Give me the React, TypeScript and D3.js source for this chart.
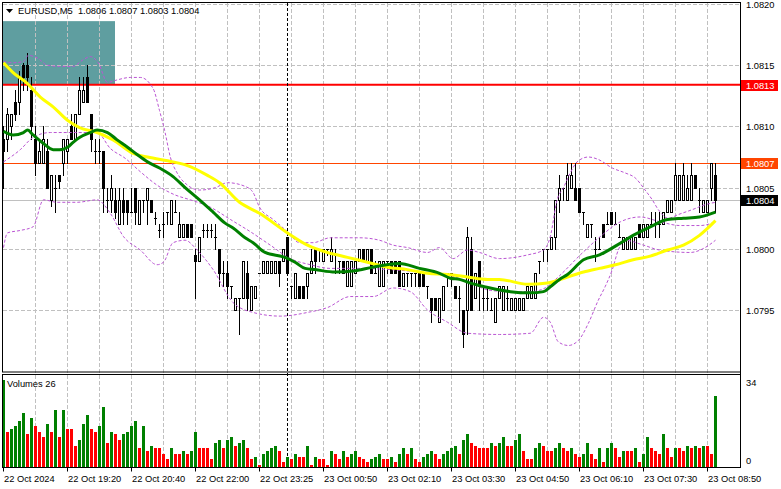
import React from "react";
import * as d3 from "d3";

const symbolTitle = "EURUSD,M5";
const headerOHLC = "1.0806 1.0807 1.0803 1.0804";

const opens = [
1.0809,1.0809,1.0810,1.0812,1.0812,1.0815,1.0815,1.0813,1.0809,1.0807,
1.0807,1.0808,1.0804,1.0805,1.0806,1.0807,1.0808,1.0810,1.0809,1.0811,
1.0812,1.0814,1.0811,1.0808,1.0808,1.0808,1.0804,1.0804,1.0804,1.0802,
1.0804,1.0804,1.0803,1.0805,1.0802,1.0804,1.0804,1.0804,1.08025,1.08015,
1.0802,1.0803,1.0802,1.0803,1.0801,1.0801,1.0802,1.0802,1.07995,1.0799,
1.08015,1.08015,1.08015,1.0801,1.0800,1.0798,1.0798,1.0797,1.0795,1.0796,
1.0796,1.0798,1.0795,1.0796,1.0798,1.0798,1.0798,1.0798,1.0798,1.0799,
1.0799,1.0801,1.0797,1.0796,1.0797,1.0797,1.0797,1.0798,1.0800,1.0800,
1.0799,1.0800,1.0799,1.07995,1.0799,1.0799,1.0797,1.0797,1.0798,1.0799,
1.0800,1.0799,1.0800,1.0798,1.0797,1.0797,1.0799,1.0799,1.0799,1.0799,
1.0797,1.0798,1.0798,1.0798,1.0798,1.0798,1.0797,1.0796,1.0796,1.0794,
1.0795,1.0798,1.0798,1.0797,1.0796,1.0795,1.0795,1.0800,1.0796,1.0799,
1.0796,1.0796,1.0795,1.0794,1.0796,1.0795,1.0796,1.0795,1.0795,1.0795,
1.0795,1.0796,1.0796,1.0796,1.0799,1.0800,1.0800,1.0800,1.0801,1.0804,
1.0805,1.0804,1.0805,1.0805,1.0805,1.0803,1.0801,1.0802,1.0800,1.0800,
1.0802,1.0802,1.0803,1.0802,1.0801,1.0800,1.0800,1.0800,1.0800,1.0802,
1.0801,1.0801,1.0802,1.0802,1.0802,1.0802,1.0803,1.0803,1.0804,1.0804,
1.0804,1.0804,1.0804,1.0806,1.0804,1.0803,1.0803,1.0805,1.0806];

const highs = [
1.0810,1.08115,1.0811,1.0813,1.08145,1.08152,1.0816,1.0814,1.0810,1.0809,
1.0810,1.0809,1.0806,1.0806,1.0806,1.0809,1.0809,1.0811,1.0811,1.0814,
1.0814,1.0815,1.0811,1.0809,1.0809,1.0808,1.0805,1.0806,1.0805,1.0805,
1.0805,1.0804,1.0805,1.0805,1.0804,1.0804,1.0805,1.0804,1.0803,1.0802,
1.0803,1.0803,1.0804,1.0804,1.0803,1.0802,1.0802,1.0802,1.0800,1.0801,
1.0802,1.0802,1.0802,1.0802,1.0800,1.0799,1.0799,1.0797,1.0796,1.0796,
1.0799,1.0799,1.0797,1.0797,1.0798,1.0799,1.0799,1.0799,1.0799,1.0799,
1.0800,1.0801,1.0797,1.0798,1.0797,1.0797,1.0798,1.0800,1.0800,1.0800,
1.0800,1.0800,1.0801,1.0800,1.0799,1.0799,1.0799,1.0799,1.0799,1.0800,
1.0800,1.0800,1.0800,1.0799,1.0799,1.0799,1.0799,1.0799,1.0799,1.0799,
1.0798,1.0798,1.0798,1.0798,1.0798,1.0798,1.0797,1.0796,1.0796,1.0796,
1.0797,1.0798,1.0798,1.0797,1.0797,1.0795,1.08018,1.0801,1.0798,1.0799,
1.0797,1.0797,1.0796,1.0796,1.0797,1.0797,1.0797,1.0796,1.0796,1.0796,
1.0796,1.0797,1.0797,1.0798,1.0799,1.0800,1.0800,1.0801,1.0804,1.0806,
1.0805,1.0807,1.0807,1.0807,1.0805,1.0803,1.0802,1.0802,1.0801,1.0801,
1.0802,1.0803,1.0803,1.0803,1.0802,1.0801,1.0801,1.0801,1.0801,1.0802,
1.0802,1.0802,1.0803,1.0803,1.0803,1.0803,1.0804,1.0804,1.0807,1.0806,
1.0807,1.0806,1.0807,1.0806,1.0805,1.0804,1.0804,1.0807,1.0807];

const lows = [
1.0805,1.0808,1.0809,1.08105,1.0811,1.0813,1.0813,1.0809,1.0806,1.0807,
1.0807,1.0805,1.08035,1.0803,1.0805,1.0806,1.0807,1.0809,1.0809,1.0811,
1.0812,1.0812,1.0808,1.0807,1.0807,1.0803,1.0803,1.0803,1.08025,1.0802,
1.0802,1.0802,1.0803,1.0802,1.0802,1.0803,1.0802,1.0803,1.0802,1.0801,
1.0801,1.0802,1.0802,1.0803,1.0801,1.0801,1.0801,1.0801,1.0796,1.0799,
1.0801,1.0801,1.0801,1.0800,1.0797,1.0797,1.0796,1.0796,1.0795,1.0793,
1.0796,1.0795,1.0795,1.0796,1.0798,1.0798,1.0798,1.0798,1.0798,1.0797,
1.0799,1.0798,1.0796,1.0796,1.0796,1.0796,1.0796,1.0798,1.0798,1.0799,
1.0799,1.07995,1.0799,1.0798,1.0798,1.0798,1.0797,1.0797,1.0798,1.0799,
1.0799,1.0799,1.0798,1.0798,1.0797,1.0797,1.0798,1.0798,1.0798,1.0797,
1.0797,1.0797,1.0797,1.0797,1.0797,1.0797,1.0796,1.0794,1.0795,1.0794,
1.0795,1.0797,1.0797,1.0796,1.0794,1.0792,1.0793,1.0795,1.0796,1.0795,
1.0795,1.0795,1.0795,1.0794,1.0796,1.0795,1.0795,1.0795,1.0795,1.0795,
1.0795,1.0796,1.0796,1.0796,1.0798,1.0799,1.0799,1.0800,1.0800,1.0803,
1.0804,1.0804,1.0805,1.0804,1.0803,1.0802,1.0801,1.0801,1.0799,1.0800,
1.0801,1.0802,1.0802,1.0802,1.0801,1.0800,1.0800,1.0800,1.0800,1.0801,
1.0801,1.0801,1.0802,1.0801,1.0801,1.0802,1.0803,1.0803,1.0804,1.0804,
1.0804,1.0804,1.0804,1.0805,1.0803,1.0803,1.0803,1.0804,1.0803];

const closes = [
1.0808,1.0811,1.0811,1.0811,1.0814,1.0814,1.0814,1.0810,1.0807,1.0808,
1.0809,1.0805,1.0806,1.0805,1.08055,1.0809,1.0809,1.0809,1.0811,1.0813,
1.0813,1.0812,1.0809,1.0808,1.0808,1.0805,1.0804,1.0805,1.0803,1.0804,
1.0803,1.0803,1.0803,1.0803,1.0804,1.0804,1.0805,1.0803,1.08025,1.08015,
1.0802,1.0803,1.0804,1.0803,1.0802,1.0802,1.0801,1.0801,1.0799,1.0801,
1.08015,1.08015,1.08015,1.0801,1.0798,1.0798,1.0797,1.0797,1.0796,1.0796,
1.0799,1.0796,1.0797,1.0797,1.0798,1.0799,1.0799,1.0799,1.0799,1.0798,
1.0800,1.0798,1.0797,1.0798,1.0796,1.0796,1.0798,1.0799,1.0799,1.0800,
1.0800,1.0800,1.0800,1.07995,1.0799,1.0798,1.0799,1.0799,1.0799,1.0800,
1.0799,1.0800,1.0798,1.0798,1.0799,1.0799,1.0799,1.0798,1.0798,1.0797,
1.0798,1.0798,1.0798,1.0798,1.0797,1.0797,1.0797,1.0795,1.0795,1.0796,
1.0797,1.0798,1.0798,1.0796,1.0796,1.0793,1.0801,1.0795,1.0798,1.0797,
1.0796,1.0796,1.0795,1.0796,1.0797,1.0797,1.0796,1.0796,1.0796,1.0796,
1.0796,1.0797,1.0797,1.0798,1.0799,1.0800,1.0800,1.0801,1.0804,1.0805,
1.0805,1.0806,1.0806,1.0804,1.0803,1.0803,1.0802,1.0802,1.0800,1.0800,
1.0801,1.0802,1.0802,1.0802,1.0801,1.0801,1.0801,1.0801,1.0801,1.0801,
1.0802,1.0802,1.0802,1.0802,1.0802,1.0803,1.0804,1.0804,1.0806,1.0806,
1.0806,1.0805,1.0806,1.0805,1.0804,1.0804,1.0804,1.0807,1.0804];

const volumes = [
32,13,14,15,17,20,12,18,15,13,11,16,13,21,11,21,14,14,8,10,
16,19,14,13,15,22,9,13,12,10,12,13,15,17,7,15,6,8,7,7,
5,3,7,5,5,6,5,6,13,7,7,7,3,9,10,7,10,11,8,9,
10,7,3,4,1,5,6,7,8,6,2,4,3,5,4,4,8,1,4,3,
3,1,6,5,3,6,4,5,6,4,3,2,3,4,5,3,3,
4,2,5,7,5,7,3,2,4,5,6,5,3,5,6,7,8,5,10,12,
9,8,7,7,7,9,8,9,11,8,8,10,12,6,3,3,7,9,8,6,
6,7,9,7,6,7,5,4,5,9,5,3,7,2,7,9,7,4,6,6,
6,7,2,5,11,7,6,5,12,7,4,7,7,6,8,7,8,7,8,8,5,26];

// moving averages and Bollinger bands as [bar, price]
const maGreen: [number, number][] = [
[0,1.08096],[2.4,1.08093],[5,1.08095],[6,1.08097],[7.4,1.08093],[10,1.08086],[12.4,1.08081],[14,1.08081],
[16,1.08083],[17.4,1.08087],[19,1.08091],[21.7,1.08095],[23.4,1.08097],[26,1.08095],[28.4,1.08089],
[31,1.08083],[33.4,1.08077],[36,1.08071],[39,1.08066],[42.4,1.08059],[45.4,1.0805],[49,1.0804],
[52.4,1.0803],[55.4,1.08021],[57.4,1.08017],[60.4,1.08009],[62.4,1.08005],[65.4,1.07997],[70.4,1.07993],
[72.9,1.07989],[75.4,1.07984],[77.9,1.07983],[82.9,1.07981],[87.9,1.07982],[92.2,1.07985],[99,1.07988],
[104,1.07984],[109,1.0798],[111.7,1.07976],[114,1.07975],[116.7,1.07972],[119,1.0797],[121.7,1.07968],
[126.7,1.07965],[131.7,1.07964],[135,1.07965],[136.7,1.07969],[139,1.07975],[141,1.07979],[145,1.07991],
[149,1.07995],[153.4,1.08003],[157.4,1.08011],[161.7,1.08018],[166,1.08024],[170,1.08025],[174,1.08026],[178,1.0803]];

const maYellow: [number, number][] = [
[0,1.08152],[2.4,1.08144],[6,1.08135],[9.2,1.08124],[12.4,1.08116],[16,1.08105],[19,1.08099],[23.4,1.08095],
[27.4,1.08089],[32.4,1.08078],[36,1.08075],[42.4,1.08071],[46,1.08068],[51,1.0806],[54,1.08054],[59,1.08038],
[64,1.08029],[71,1.08013],[76,1.08003],[81,1.07997],[86,1.07993],[91,1.07989],[96,1.07985],[101,1.07983],
[106,1.0798],[111,1.07979],[116,1.07977],[121,1.07975],[124,1.07975],[131,1.07971],[136,1.07972],
[141,1.07977],[145,1.07981],[149,1.07984],[153,1.07987],[157.4,1.07991],[161.7,1.07994],[166,1.07999],
[170,1.08003],[174,1.08011],[178,1.08023]];

const bbUpper: [number, number][] = [
[0,1.08153],[2.4,1.08152],[5,1.08153],[6.2,1.08158],[8.4,1.08156],[11,1.0815],[14,1.08149],[17.4,1.08149],
[19.7,1.08154],[21.7,1.08157],[23.7,1.08152],[26,1.08136],[28.4,1.08138],[31.7,1.0814],[34.2,1.0814],
[37.4,1.08131],[39,1.08113],[40.4,1.08095],[41.7,1.08075],[43.4,1.08062],[46,1.08052],[49,1.08048],
[53,1.0805],[56,1.08054],[60.4,1.08051],[62.4,1.08046],[64,1.08034],[67.4,1.08024],[71,1.08014],[74,1.08005],
[77.4,1.08005],[81.7,1.08009],[89,1.08009],[94,1.08007],[97.4,1.08003],[101,1.08001],[106,1.07997],
[109,1.08001],[112.4,1.07992],[116,1.07999],[119,1.07997],[124,1.07992],[131,1.07995],[135,1.07999],
[136.7,1.0801],[138.4,1.0804],[140,1.0805],[141.7,1.08062],[143.4,1.08071],[146.2,1.08075],[148.7,1.08073],
[152.2,1.08066],[155.4,1.08062],[157.9,1.08058],[160.4,1.08048],[162.2,1.0804],[163.7,1.08032],
[166.2,1.08025],[168.7,1.08028],[172.2,1.08032],[175.4,1.08036],[178,1.08038]];

const bbMiddle: [number, number][] = [
[0,1.08071],[4.2,1.08081],[7.4,1.08091],[11.7,1.08095],[16,1.08095],[23.4,1.08095],[26.7,1.08082],
[30.4,1.08074],[34.2,1.08063],[38.4,1.08052],[42.9,1.08044],[46.7,1.0804],[51.7,1.08034],[56.7,1.08024],
[61.7,1.08014],[66.7,1.08003],[71.7,1.07992],[76.7,1.07987],[81.7,1.07984],[89.2,1.07984],[96.7,1.07983],
[104.2,1.07981],[111.7,1.07978],[116.7,1.07972],[121.7,1.07966],[126.7,1.07965],[131.7,1.07965],
[135.4,1.07968],[139,1.07978],[144.2,1.07995],[149.2,1.0801],[154.2,1.08022],[159.2,1.08026],
[164.2,1.08022],[169.2,1.08019],[174.2,1.08019],[178,1.08022]];

const bbLower: [number, number][] = [
[0,1.08001],[1,1.08013],[4.2,1.08015],[7.4,1.08018],[10,1.0804],[13.4,1.08038],[18.4,1.08038],[23.4,1.0804],
[26.7,1.08029],[30,1.0801],[34.2,1.07999],[38.4,1.07987],[40,1.07989],[42.4,1.08005],[45.4,1.08007],
[48.4,1.07999],[52.4,1.07983],[57.4,1.07956],[62.4,1.07948],[69.2,1.07945],[76,1.07948],[81,1.07952],
[86.7,1.07961],[92.4,1.07961],[97.4,1.07968],[101.7,1.07965],[106,1.0795],[111,1.0794],[116,1.07931],
[124,1.0793],[131.7,1.07931],[135,1.07944],[136.7,1.0794],[138.7,1.07924],[141.2,1.07921],[143.7,1.07925],
[146.2,1.07939],[148.7,1.07958],[150.4,1.07969],[152.2,1.07983],[153.7,1.07999],[155.4,1.08007],
[160,1.08003],[164,1.07999],[171.7,1.07997],[175.4,1.08001],[178,1.08007]];

const priceTicks = [1.082, 1.0815, 1.081, 1.0805, 1.08, 1.0795];
const timeLabels = ["22 Oct 2024","22 Oct 19:20","22 Oct 20:40","22 Oct 22:00","22 Oct 23:25","23 Oct 00:50",
  "23 Oct 02:10","23 Oct 03:30","23 Oct 04:50","23 Oct 06:10","23 Oct 07:30","23 Oct 08:50"];
const timeLabelBars = [0,16,32,48,64,80,96,112,128,144,160,176];
const daySeparatorBar = 71;
const resistanceLevel = 1.08134;
const highLevel = 1.0807;
const bidLevel = 1.0804;
const zoneTop = 1.08186;
const zoneEndBar = 28;
const volumeMax = 34;
const currentVolume = 26;

const FONT = "'Liberation Sans', Arial, sans-serif";

export default function App() {
  const W = 781, H = 489;
  const left = 3, right = 740, mainTop = 3, mainBottom = 372, volTop = 374, volBottom = 467.5;
  const n = closes.length;
  const x = d3.scaleLinear().domain([0, n - 1]).range([3, 3 + 4 * (n - 1)]);
  const y = d3.scaleLinear().domain([1.0795, 1.082]).range([310, 4]);
  const yv = d3.scaleLinear().domain([0, volumeMax]).range([volBottom, volTop]);
  const line = d3.line<[number, number]>().x(d => x(d[0]) + 0.5).y(d => y(d[1])).curve(d3.curveMonotoneX);
  const ry = (p: number) => Math.round(y(p));

  const gridX: number[] = [];
  for (let k = 1; k * 32 + 3 < right - 2; k++) gridX.push(3 + 32 * k + 0.5);

  const candles = closes.map((c, i) => {
    const cx = Math.round(x(i));
    const o = opens[i], h = highs[i], l = lows[i];
    const yo = ry(o), yc = ry(c), yh = ry(h), yl = ry(l);
    const els: React.ReactNode[] = [];
    els.push(<line key="w" x1={cx + 0.5} x2={cx + 0.5} y1={yh} y2={yl + 1} stroke="#000" strokeWidth={1} />);
    if (yc < yo) {
      els.push(<rect key="b" x={cx - 0.5} y={yc + 0.5} width={2} height={yo - yc} fill="#fff" stroke="#000" strokeWidth={1} />);
    } else if (yc > yo) {
      els.push(<rect key="b" x={cx - 1} y={yo} width={3} height={yc - yo + 1} fill="#000" />);
    } else {
      els.push(<line key="b" x1={cx - 1} x2={cx + 2} y1={yo + 0.5} y2={yo + 0.5} stroke="#000" strokeWidth={1} />);
    }
    return <g key={i}>{els}</g>;
  });

  const volBars = volumes.map((v, i) => {
    const up = i === 0 || v > volumes[i - 1];
    const cx = Math.round(x(i));
    const top = Math.round(yv(v));
    return <rect key={i} x={cx - 1} y={top} width={3} height={Math.max(0, Math.round(volBottom) - top)} fill={up ? "#008000" : "#ff0000"} />;
  });

  const label = (p: number, txt: string, bg: string, fg: string) => {
    const yy = y(p);
    return (
      <g>
        <rect x={741} y={Math.round(yy) - 5} width={37} height={11} fill={bg} />
        <text x={746} y={Math.round(yy) + 4} fontSize={9.3} fontFamily={FONT} fill={fg}>{txt}</text>
      </g>
    );
  };

  return (
    <svg width={W} height={H} style={{ position: "absolute", left: 0, top: 0, background: "#fff" }}>
      <rect x={0} y={0} width={W} height={H} fill="#fff" />
      <rect x={left} y={y(zoneTop)} width={x(zoneEndBar) - left} height={y(resistanceLevel) - y(zoneTop)} fill="#5f9ea0" />
      {gridX.map((gx, k) => (
        <line key={"gx" + k} x1={gx} x2={gx} y1={mainTop} y2={volBottom} stroke="#c0c0c0" strokeDasharray="4,2" strokeWidth={1} />
      ))}
      {priceTicks.map((p, k) => (
        <line key={"gy" + k} x1={left} x2={right} y1={Math.round(y(p)) + 0.5} y2={Math.round(y(p)) + 0.5} stroke="#c0c0c0" strokeDasharray="4,2" strokeWidth={1} />
      ))}
      <line x1={left} x2={right} y1={Math.round(y(bidLevel)) + 0.5} y2={Math.round(y(bidLevel)) + 0.5} stroke="#c0c0c0" strokeWidth={1} />
      <line x1={left} x2={right} y1={Math.round(y(highLevel)) + 0.5} y2={Math.round(y(highLevel)) + 0.5} stroke="#ff4500" strokeWidth={1} />
      <line x1={left} x2={right} y1={y(resistanceLevel)} y2={y(resistanceLevel)} stroke="#ff0000" strokeWidth={2} />
      <line x1={Math.round(x(daySeparatorBar)) + 0.5} x2={Math.round(x(daySeparatorBar)) + 0.5} y1={mainTop} y2={volBottom} stroke="#000" strokeDasharray="3,2" strokeWidth={1} />
      {candles}
      {[bbUpper, bbMiddle, bbLower].map((pts, k) => (
        <path key={"bb" + k} d={line(pts) || ""} fill="none" stroke="#ba55d3" strokeWidth={1} strokeDasharray="3,2" />
      ))}
      <path d={line(maYellow) || ""} fill="none" stroke="#ffff00" strokeWidth={3} />
      <path d={line(maGreen) || ""} fill="none" stroke="#008000" strokeWidth={3} />
      {volBars}
      <rect x={2.5} y={2.5} width={right - 2} height={mainBottom - 2.5} fill="none" stroke="#000" strokeWidth={1} />
      <rect x={2.5} y={volTop + 0.5} width={right - 2} height={volBottom - volTop - 0.5} fill="none" stroke="#000" strokeWidth={1} />
      <rect x={741} y={0} width={40} height={H} fill="#fff" />
      <line x1={right + 0.5} x2={right + 0.5} y1={2.5} y2={volBottom} stroke="#000" />
      {priceTicks.map((p, k) => (
        <text key={"pl" + k} x={746} y={Math.round(y(p)) + 4} fontSize={9.3} fontFamily={FONT} fill="#000">{p.toFixed(4)}</text>
      ))}
      {label(resistanceLevel, "1.0813", "#ff0000", "#fff")}
      {label(highLevel, "1.0807", "#ff4500", "#fff")}
      {label(bidLevel, "1.0804", "#000", "#fff")}
      <text x={746} y={386} fontSize={9.3} fontFamily={FONT} fill="#000">{volumeMax}</text>
      <text x={746} y={464} fontSize={9.3} fontFamily={FONT} fill="#000">0</text>
      {timeLabelBars.map((b, k) => {
        const tx = Math.round(x(b)) + 0.5;
        return (
          <g key={"t" + k}>
            <line x1={tx} x2={tx} y1={volBottom} y2={volBottom + 4} stroke="#000" />
            <text x={tx + 0.5} y={482} fontSize={9.3} fontFamily={FONT} fill="#000">{timeLabels[k]}</text>
          </g>
        );
      })}
      <polygon points="6,9 13,9 9.5,13" fill="#000" />
      <text x={18} y={14} fontSize={9.3} fontFamily={FONT} fill="#000" style={{ whiteSpace: "pre" }}>{symbolTitle + "  " + headerOHLC}</text>
      <text x={7} y={387} fontSize={9.3} fontFamily={FONT} fill="#000">{"Volumes " + currentVolume}</text>
    </svg>
  );
}
